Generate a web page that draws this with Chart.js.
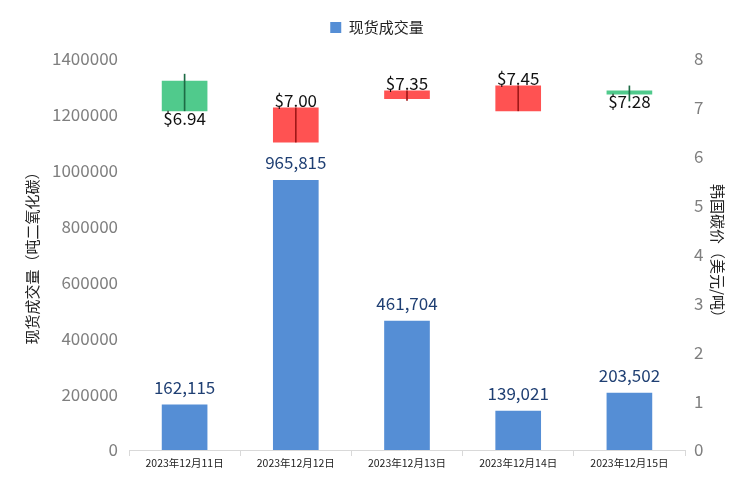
<!DOCTYPE html>
<html>
<head>
<meta charset="utf-8">
<script src="https://cdn.jsdelivr.net/npm/chart.js@4.4.0/dist/chart.umd.min.js"></script>
<style>
  html, body { margin: 0; padding: 0; background: #fff; }
  #wrap { width: 754px; height: 481px; }
</style>
</head>
<body>
<div id="wrap"><canvas id="myChart" width="754" height="481"></canvas></div>
<script>
const dates = ['2023年12月11日', '2023年12月12日', '2023年12月13日', '2023年12月14日', '2023年12月15日'];
const volume = [162115, 965815, 461704, 139021, 203502];
const openPx = [6.94, 7.00, 7.35, 7.45, 7.28];
const closePx = [7.55, 6.30, 7.19, 6.94, 7.35];
const highPx = [7.69, 7.00, 7.35, 7.45, 7.45];
const lowPx = [6.94, 6.30, 7.15, 6.94, 7.14];
const leftTicks = [0, 200000, 400000, 600000, 800000, 1000000, 1200000, 1400000];
const rightTicks = [0, 1, 2, 3, 4, 5, 6, 7, 8];

const FONT = "'Noto Sans CJK SC', 'Noto Sans', sans-serif";
const up = dates.map((d, i) => closePx[i] >= openPx[i]);

// espacio extra bajo la leyenda
const legendGap = {
  id: 'legendGap',
  afterInit(chart) {
    const leg = chart.legend;
    if (!leg) return;
    const fit = leg.fit.bind(leg);
    leg.fit = function () { fit(); this.height += 14; };
  }
};

// etiquetas de valores
const labelsPlugin = {
  id: 'valueLabels',
  afterDatasetsDraw(chart) {
    const c = chart.ctx;
    const x = chart.scales.x, yl = chart.scales.y, yr = chart.scales.y1;
    c.save();
    c.font = '17px ' + FONT;
    c.textAlign = 'center';
    volume.forEach((v, i) => {
      c.fillStyle = '#1f3f73';
      c.textBaseline = 'bottom';
      c.fillText(v.toLocaleString('en-US'), x.getPixelForValue(i), yl.getPixelForValue(v) - 9);
    });
    c.fillStyle = '#111';
    openPx.forEach((p, i) => {
      const px = x.getPixelForValue(i);
      if (up[i]) {
        c.textBaseline = 'top';
        c.fillText('$' + p.toFixed(2), px, yr.getPixelForValue(Math.min(openPx[i], closePx[i])) - 1);
      } else {
        c.textBaseline = 'bottom';
        c.fillText('$' + p.toFixed(2), px, yr.getPixelForValue(Math.max(openPx[i], closePx[i])) + 1);
      }
    });
    c.restore();
  }
};

new Chart(document.getElementById('myChart').getContext('2d'), {
  type: 'bar',
  data: {
    labels: dates,
    datasets: [
      {
        label: '现货成交量',
        data: volume,
        yAxisID: 'y',
        backgroundColor: 'rgb(85, 142, 213)',
        barThickness: 45,
        grouped: false,
        order: 3
      },
      {
        label: 'body',
        data: dates.map((d, i) => [openPx[i], closePx[i]]),
        yAxisID: 'y1',
        backgroundColor: up.map(u => u ? 'rgb(80, 202, 140)' : 'rgb(255, 82, 82)'),
        barThickness: 45,
        grouped: false,
        order: 2
      },
      {
        label: 'wick',
        data: dates.map((d, i) => [lowPx[i], highPx[i]]),
        yAxisID: 'y1',
        backgroundColor: up.map(u => u ? '#1d6b45' : '#a01818'),
        barThickness: 1,
        grouped: false,
        order: 1
      }
    ]
  },
  options: {
    responsive: false,
    animation: false,
    layout: { padding: { top: 10, right: 0, left: 0, bottom: 0 } },
    scales: {
      x: {
        grid: {
          offset: true,
          drawOnChartArea: false,
          color: '#d9d9d9',
          tickLength: 6
        },
        border: { color: '#d9d9d9' },
        ticks: { color: '#222', font: { family: FONT, size: 10.5 }, maxRotation: 0, padding: 1 },
        afterFit(s) { s.height = 31; }
      },
      y: {
        position: 'left',
        min: 0,
        max: 1400000,
        afterBuildTicks(s) { s.ticks = leftTicks.map(v => ({ value: v })); },
        grid: { display: false },
        border: { display: false },
        ticks: { color: '#7f7f7f', font: { family: FONT, size: 17 }, padding: 3, callback: v => String(v) },
        title: { display: true, text: '现货成交量（吨二氧化碳）', color: '#222', font: { family: FONT, size: 15 }, padding: { top: 23, bottom: 0 } },
        afterFit(s) { s.width = 129; }
      },
      y1: {
        position: 'right',
        min: 0,
        max: 8,
        afterBuildTicks(s) { s.ticks = rightTicks.map(v => ({ value: v })); },
        grid: { display: false },
        border: { display: false },
        ticks: { color: '#7f7f7f', font: { family: FONT, size: 17 }, padding: 1 },
        title: { display: true, text: '韩国碳价（美元/吨）', color: '#222', font: { family: FONT, size: 15 }, padding: { top: 27, bottom: 0 } },
        afterFit(s) { s.width = 69; }
      }
    },
    plugins: {
      legend: {
        display: true,
        position: 'top',
        labels: {
          filter: item => item.datasetIndex === 0,
          boxWidth: 11,
          boxHeight: 11,
          color: '#222',
          font: { family: FONT, size: 15 },
          padding: 10
        }
      },
      tooltip: { enabled: false }
    }
  },
  plugins: [legendGap, labelsPlugin]
});
</script>
</body>
</html>
